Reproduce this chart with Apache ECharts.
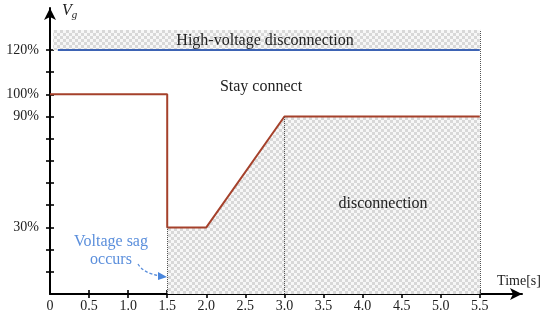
<!DOCTYPE html>
<html>
<head>
<meta charset="utf-8">
<script src="https://cdn.jsdelivr.net/npm/echarts@6/dist/echarts.min.js"></script>
<style>
html,body{margin:0;padding:0;background:#fff;}
#c{width:550px;height:318px;}
</style>
</head>
<body>
<div id="c"></div>
<script>
// ---- data ----
const timeS      = [0, 1.5, 1.5, 2.0, 3.0, 5.5];     // red Vg profile, time [s]
const vgPercent  = [100, 100, 30, 30, 90, 90];        // red Vg profile, % of nominal
const highLimitTime    = [0.1, 5.5];
const highLimitPercent = [120, 120];
const hatchTopPercent  = 129;                         // top of the upper hatched band
const sagTime          = 1.5;
const recoverTime      = 3.0;
const endTime          = 5.5;
const xTickValues = [0.5, 1.0, 1.5, 2.0, 2.5, 3.0, 3.5, 4.0, 4.5, 5.0, 5.5];
const xLabelValues = [0, 0.5, 1.0, 1.5, 2.0, 2.5, 3.0, 3.5, 4.0, 4.5, 5.0, 5.5];
const yTickLabels = ['', '', '', '30%', '', '', '', '', '90%', '100%', '', '120%'];

// schematic (non-linear) vertical scale: percent -> tick position
const yKnotsPct  = [0, 30, 90, 100, 120];
const yKnotsUnit = yKnotsPct.map(p => p === 0 ? 0 : yTickLabels.indexOf(p + '%'));
function yScale(p) {
  let i = 0;
  while (i < yKnotsPct.length - 2 && p > yKnotsPct[i + 1]) i++;
  const p0 = yKnotsPct[i], p1 = yKnotsPct[i + 1];
  const u0 = yKnotsUnit[i], u1 = yKnotsUnit[i + 1];
  return u0 + (p - p0) * (u1 - u0) / (p1 - p0);
}

// checker pattern
const pc = document.createElement('canvas');
pc.width = 6; pc.height = 6;
const g = pc.getContext('2d');
g.fillStyle = '#f7f7f7'; g.fillRect(0, 0, 6, 6);
g.fillStyle = '#d8d8d8'; g.fillRect(0, 0, 3, 3); g.fillRect(3, 3, 3, 3);
const hatch = { image: pc, repeat: 'repeat' };

const redPts = timeS.map((t, i) => [t, yScale(vgPercent[i])]);
const hatchPts = redPts.filter(p => p[0] >= sagTime).slice(1);
hatchPts.unshift([sagTime, yScale(vgPercent[2])]);
const bluePts = highLimitTime.map((t, i) => [t, yScale(highLimitPercent[i])]);

const SERIF = '"Liberation Serif", "DejaVu Serif", serif';
const XMAX = 6.04, YMAX = 12.89;

const chart = echarts.init(document.getElementById('c'), null, { renderer: 'canvas' });
const axisColor = '#000';
const baseX = {
  type: 'value', min: 0, max: XMAX, position: 'bottom', offset: 0,
  splitLine: { show: false }
};
const baseY = {
  type: 'value', min: 0, max: YMAX, position: 'left', offset: 0,
  splitLine: { show: false }
};
chart.setOption({
  animation: false,
  grid: { left: 50, right: 28, top: 8, bottom: 24, containLabel: false },
  xAxis: [
    Object.assign({}, baseX, {
      axisLine: { show: true, symbol: ['none', 'arrow'], symbolSize: [9, 12], lineStyle: { color: axisColor, width: 2 } },
      axisTick: { show: true, customValues: xTickValues, length: 4, lineStyle: { color: axisColor, width: 1.6 } },
      axisLabel: { show: true, customValues: xLabelValues, margin: 5, color: '#222', fontFamily: SERIF, fontSize: 14,
        formatter: v => v === 0 ? '0' : v.toFixed(1) }
    }),
    Object.assign({}, baseX, {
      axisLine: { show: false },
      axisTick: { show: true, inside: true, customValues: xTickValues, length: 4, lineStyle: { color: axisColor, width: 1.6 } },
      axisLabel: { show: false }
    })
  ],
  yAxis: [
    Object.assign({}, baseY, {
      axisLine: { show: true, symbol: ['none', 'arrow'], symbolSize: [9, 12], lineStyle: { color: axisColor, width: 2 } },
      axisTick: { show: true, customValues: yTickLabels.map((s, i) => i).slice(1), length: 4, lineStyle: { color: axisColor, width: 1.6 } },
      axisLabel: { show: true, customValues: yTickLabels.map((s, i) => s ? i : -1).filter(i => i >= 0), margin: 11, color: '#222', fontFamily: SERIF, fontSize: 14,
        formatter: v => yTickLabels[Math.round(v)] }
    }),
    Object.assign({}, baseY, {
      axisLine: { show: false },
      axisTick: { show: true, inside: true, customValues: yTickLabels.map((s, i) => i).slice(1), length: 4, lineStyle: { color: axisColor, width: 1.6 } },
      axisLabel: { show: false }
    })
  ],
  series: [
    {
      name: 'hatchLow', type: 'line', data: hatchPts, symbol: 'none', z: 1,
      lineStyle: { width: 0 }, areaStyle: { color: hatch, opacity: 1, origin: 'start' },
      markArea: {
        silent: true,
        itemStyle: { color: hatch, opacity: 1 },
        data: [[{ coord: [0.04, yScale(highLimitPercent[0])] }, { coord: [endTime, yScale(hatchTopPercent)] }]]
      },
      markLine: {
        silent: true, symbol: 'none', label: { show: false },
        lineStyle: { color: '#555', type: 'dotted', width: 1 },
        data: [
          [{ coord: [sagTime, 0] }, { coord: [sagTime, yScale(vgPercent[2])] }],
          [{ coord: [recoverTime, 0] }, { coord: [recoverTime, yScale(vgPercent[4])] }],
          [{ coord: [endTime, 0] }, { coord: [endTime, yScale(hatchTopPercent)] }]
        ]
      }
    },
    {
      name: 'Vg', type: 'line', data: redPts, symbol: 'none', z: 3,
      lineStyle: { color: '#a5412b', width: 2 }
    },
    {
      name: 'high', type: 'line', data: bluePts, symbol: 'none', z: 3,
      lineStyle: { color: '#3d63b4', width: 2 }
    }
  ],
  graphic: { elements: [
    { type: 'text', z: 100, left: 62, top: 3, style: {
      text: '{v|V}{s|g}', rich: {
        v: { fontFamily: SERIF, fontStyle: 'italic', fontSize: 16, fill: '#222' },
        s: { fontFamily: SERIF, fontStyle: 'italic', fontSize: 11, fill: '#222', verticalAlign: 'bottom', padding: [8, 0, 0, 0] }
      } } },
    { type: 'text', z: 100, x: 265, y: 41, style: { text: 'High-voltage disconnection', fontFamily: SERIF, fontSize: 16, fill: '#222', align: 'center', verticalAlign: 'middle' } },
    { type: 'text', z: 100, x: 261, y: 87, style: { text: 'Stay connect', fontFamily: SERIF, fontSize: 16, fill: '#222', align: 'center', verticalAlign: 'middle' } },
    { type: 'text', z: 100, x: 383, y: 204, style: { text: 'disconnection', fontFamily: SERIF, fontSize: 16, fill: '#222', align: 'center', verticalAlign: 'middle' } },
    { type: 'text', z: 100, x: 519, y: 281, style: { text: 'Time[s]', fontFamily: SERIF, fontSize: 14, fill: '#222', align: 'center', verticalAlign: 'middle' } },
    { type: 'text', z: 100, x: 111, y: 251, style: { text: 'Voltage sag\noccurs', fontFamily: SERIF, fontSize: 16, lineHeight: 18, fill: '#5b8fdc', align: 'center', verticalAlign: 'middle' } },
    { type: 'bezierCurve', z: 100, shape: { x1: 138, y1: 264, cpx1: 143, cpy1: 273, x2: 160, y2: 276 },
      style: { stroke: '#5b8fdc', lineWidth: 1.3, lineDash: [3, 2], fill: null } },
    { type: 'polygon', z: 100, shape: { points: [[167, 277], [158, 272], [158, 280]] }, style: { fill: '#4a86dc' } }
  ] }
});
</script>
</body>
</html>
